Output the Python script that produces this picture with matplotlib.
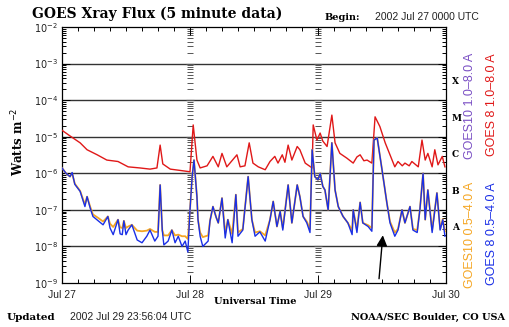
import numpy as np
import matplotlib
matplotlib.use("Agg")
import matplotlib.pyplot as plt
import matplotlib.ticker as mticker

# hours since 2002 Jul 27 00:00 UT, flux in W m^-2
goes8_long_t = [0.0, 1.5, 3.4, 4.7, 6.6, 8.4, 10.5, 12.4, 14.6, 16.5, 17.8, 18.4, 18.9, 20.3,
                22.1, 24.0, 24.6, 25.3, 25.9, 27.2, 28.3, 29.3, 30.0, 30.9, 32.8, 33.4, 34.3,
                35.1, 35.8, 36.8, 38.1, 39.0, 39.9, 40.5, 41.3, 41.8, 42.4, 43.1, 44.1, 44.6,
                45.6, 46.9, 47.1, 47.8, 48.4, 48.9, 49.7, 50.6, 51.2, 52.1, 53.4, 54.6, 55.3,
                55.9, 56.6, 57.2, 58.1, 58.7, 59.6, 60.6, 61.5, 62.4, 63.0, 63.8, 64.3, 65.1,
                65.6, 66.8, 67.5, 68.1, 68.6, 69.4, 69.9, 70.5, 71.3, 71.8]
goes8_long = [1.5e-5, 1.05e-5, 6.8e-6, 4.4e-6, 3.2e-6, 2.3e-6, 2.1e-6, 1.5e-6, 1.4e-6, 1.3e-6,
              1.4e-6, 5.9e-6, 1.8e-6, 1.3e-6, 1.2e-6, 1.1e-6, 2.1e-5, 2.3e-6, 1.4e-6, 1.6e-6,
              2.9e-6, 1.5e-6, 3.5e-6, 1.5e-6, 3.2e-6, 1.5e-6, 1.6e-6, 6.8e-6, 1.9e-6, 1.5e-6,
              1.25e-6, 2.1e-6, 2.9e-6, 1.9e-6, 3.2e-6, 2.0e-6, 5.9e-6, 2.3e-6, 5.4e-6, 4.4e-6,
              1.9e-6, 1.4e-6, 2.1e-5, 8.1e-6, 1.26e-5, 7.6e-6, 5.4e-6, 3.9e-5, 6.8e-6, 3.5e-6,
              2.6e-6, 1.9e-6, 2.8e-6, 3.2e-6, 2.2e-6, 2.3e-6, 1.9e-6, 3.5e-5, 1.9e-5, 6.8e-6,
              3.2e-6, 1.5e-6, 2.1e-6, 1.6e-6, 1.9e-6, 1.6e-6, 2.1e-6, 1.5e-6, 8.1e-6, 2.3e-6,
              3.5e-6, 1.5e-6, 4.4e-6, 1.7e-6, 2.9e-6, 1.5e-6]

short_t = [0.0, 0.75, 1.5, 1.9, 2.4, 3.4, 4.3, 4.7, 5.3, 5.8, 6.8, 7.7, 8.6, 9.0, 9.6,
           10.5, 10.9, 11.3, 11.6, 12.0, 12.4, 13.1, 14.1, 15.0, 15.9, 16.5, 17.4, 18.0,
           18.4, 18.8, 19.1, 19.9, 20.6, 21.2, 21.8, 22.5, 23.1, 23.6, 24.0, 24.4, 24.75,
           25.3, 25.5, 25.9, 26.4, 27.4, 27.75, 28.3, 28.9, 29.3, 30.0, 30.6, 31.1, 31.9,
           32.6, 33.0, 33.9, 34.9, 35.6, 36.2, 37.1, 38.1, 39.0, 39.6, 40.3, 40.9, 41.4,
           42.4, 43.1, 44.1, 44.6, 45.2, 45.9, 46.5, 46.9, 47.4, 48.0, 48.4, 48.9, 49.3,
           49.9, 50.6, 51.2, 51.8, 52.7, 53.6, 54.4, 54.6, 55.3, 55.9, 56.4, 57.4, 58.1,
           58.5, 59.1, 60.0, 60.9, 61.5, 62.4, 63.0, 63.75, 64.3, 65.25, 65.8, 66.6, 67.1,
           67.7, 68.1, 68.6, 69.4, 70.3, 70.9, 71.4, 71.8]
goes8_short = [1.4e-6, 1.0e-6, 8.1e-7, 1.05e-6, 5.0e-7, 3.2e-7, 1.23e-7, 2.3e-7, 1.1e-7, 6.6e-8,
               5.0e-8, 3.9e-8, 6.6e-8, 3.2e-8, 2.1e-8, 5.4e-8, 2.2e-8, 2.1e-8, 5.0e-8, 2.1e-8,
               2.8e-8, 3.9e-8, 1.5e-8, 1.26e-8, 1.9e-8, 2.8e-8, 1.4e-8, 1.9e-8, 4.8e-7, 2.8e-8,
               1.1e-8, 1.4e-8, 2.8e-8, 1.26e-8, 1.9e-8, 1.0e-8, 1.4e-8, 7.0e-9, 1.0e-7, 8.1e-7,
               2.3e-6, 2.3e-7, 5.4e-8, 1.9e-8, 1.0e-8, 1.4e-8, 5.0e-8, 1.23e-7, 6.3e-8, 4.4e-8,
               2.1e-7, 1.7e-8, 5.4e-8, 1.26e-8, 2.6e-7, 1.9e-8, 2.8e-8, 8.1e-7, 5.4e-8, 1.9e-8,
               2.5e-8, 1.4e-8, 5.4e-8, 1.7e-7, 3.5e-8, 9.1e-8, 2.8e-8, 4.8e-7, 4.4e-8, 4.8e-7,
               2.3e-7, 6.6e-8, 4.4e-8, 2.4e-8, 4.4e-6, 8.1e-7, 6.6e-7, 1.0e-6, 4.4e-7, 3.5e-7,
               1.0e-7, 6.8e-6, 3.5e-7, 1.23e-7, 6.6e-8, 4.4e-8, 2.1e-8, 1.0e-7, 2.4e-8, 1.6e-7,
               4.4e-8, 3.5e-8, 2.6e-8, 8.1e-6, 9.3e-6, 1.26e-6, 1.6e-7, 4.4e-8, 1.9e-8, 2.8e-8,
               1.0e-7, 4.4e-8, 1.23e-7, 2.8e-8, 2.4e-8, 1.0e-7, 1.0e-6, 5.4e-8, 3.5e-7, 2.4e-8,
               2.9e-7, 2.8e-8, 5.4e-8, 1.9e-8]
goes10_short = [1.4e-6, 1.0e-6, 8.1e-7, 1.0e-6, 5.2e-7, 3.3e-7, 1.4e-7, 2.3e-7, 1.2e-7, 7.5e-8,
                6.0e-8, 4.8e-8, 6.6e-8, 4.2e-8, 3.4e-8, 5.4e-8, 3.3e-8, 3.2e-8, 5.0e-8, 3.2e-8,
                3.5e-8, 3.9e-8, 2.7e-8, 2.6e-8, 2.7e-8, 3.0e-8, 2.5e-8, 2.5e-8, 4.8e-7, 2.8e-8,
                2.0e-8, 2.0e-8, 2.8e-8, 2.0e-8, 2.1e-8, 1.9e-8, 1.9e-8, 1.6e-8, 1.0e-7, 8.1e-7,
                2.3e-6, 2.3e-7, 5.4e-8, 2.4e-8, 1.8e-8, 2.0e-8, 5.0e-8, 1.23e-7, 6.3e-8, 4.4e-8,
                2.1e-7, 2.3e-8, 5.4e-8, 2.2e-8, 2.6e-7, 2.4e-8, 3.0e-8, 8.1e-7, 5.4e-8, 2.4e-8,
                2.6e-8, 2.0e-8, 5.4e-8, 1.7e-7, 3.5e-8, 9.1e-8, 3.2e-8, 4.8e-7, 4.4e-8, 4.8e-7,
                2.3e-7, 6.6e-8, 4.8e-8, 3.0e-8, 4.4e-6, 8.1e-7, 6.6e-7, 1.0e-6, 4.4e-7, 3.5e-7,
                1.0e-7, 6.8e-6, 3.5e-7, 1.23e-7, 6.6e-8, 4.4e-8, 2.8e-8, 1.0e-7, 2.9e-8, 1.6e-7,
                4.4e-8, 3.8e-8, 3.2e-8, 8.1e-6, 9.3e-6, 1.26e-6, 1.6e-7, 4.8e-8, 2.4e-8, 3.0e-8,
                1.0e-7, 4.4e-8, 1.23e-7, 3.0e-8, 2.8e-8, 1.0e-7, 1.0e-6, 5.4e-8, 3.5e-7, 2.8e-8,
                2.9e-7, 3.0e-8, 5.6e-8, 2.6e-8]

day_ticks = [0, 24, 48, 72]
day_labels = ["Jul 27", "Jul 28", "Jul 29", "Jul 30"]
decades = [1e-9, 1e-8, 1e-7, 1e-6, 1e-5, 1e-4, 1e-3, 1e-2]
flare_classes = ["A", "B", "C", "M", "X"]
flare_pos = [3.2e-8, 3.2e-7, 3.2e-6, 3.2e-5, 3.2e-4]

red = "#e01818"
blue = "#1a2fe6"
orange = "#f5a623"
purple = "#7a4fc4"

fig = plt.figure(figsize=(5.09, 3.27), dpi=100)
ax = fig.add_axes([62 / 509, 1 - 283 / 327, 384 / 509, 256 / 327])
ax.set_yscale("log")
ax.set_xlim(0, 72)
ax.set_ylim(1e-9, 1e-2)

# grid lines at decades
for d in decades[1:-1]:
    ax.axhline(d, color="#333333", lw=1.0, zorder=1)

# tick columns at day boundaries
minor_vals = [k * d for d in decades[:-1] for k in range(2, 10)]
for t in day_ticks[1:3]:
    ax.plot([t] * len(minor_vals), minor_vals, ls="none", marker="_", ms=4,
            mew=0.7, color="#555555", zorder=1)
    ax.plot([t] * len(decades), decades, ls="none", marker="_", ms=6,
            mew=0.8, color="#555555", zorder=1)

ax.plot(goes8_long_t, goes8_long, color=red, lw=1.0, zorder=3)
ax.plot(short_t, goes10_short, color=orange, lw=1.3, zorder=3)
ax.plot(short_t, goes8_short, color=blue, lw=1.0, zorder=4)

ax.set_xticks(day_ticks)
ax.set_xticklabels(day_labels, fontsize=7.5, family="Liberation Sans", color="#222222")
ax.xaxis.set_minor_locator(mticker.MultipleLocator(3))
ax.set_yticks(decades)
ax.set_yticklabels([f"$10^{{{int(np.log10(d))}}}$" for d in decades], fontsize=7,
                   color="#222222")
ax.yaxis.set_minor_locator(mticker.LogLocator(base=10, subs=np.arange(2, 10), numticks=20))
ax.yaxis.set_minor_formatter(mticker.NullFormatter())
ax.tick_params(which="both", direction="in", top=True, right=True, width=0.7)
ax.tick_params(which="major", length=6)
ax.tick_params(axis="x", which="major", pad=5)
ax.tick_params(axis="y", which="major", pad=3)
ax.tick_params(which="minor", length=3)
for s in ax.spines.values():
    s.set_linewidth(0.9)

for lab, v in zip(flare_classes, flare_pos):
    ax.text(1.015, v, lab, transform=ax.get_yaxis_transform(), fontsize=6.5,
            family="DejaVu Serif", weight="bold", va="center", ha="left")

ax.annotate("", xy=(60.2, 2.4e-8), xytext=(59.4, 1.1e-9),
            arrowprops=dict(arrowstyle="-|>", mutation_scale=16, color="black", lw=1.0))

fig.text(32 / 509, 1 - 14 / 327, "GOES Xray Flux (5 minute data)", fontsize=10,
         family="DejaVu Serif", weight="bold", va="center")
fig.text(325 / 509, 1 - 17 / 327, "Begin:", fontsize=7, family="DejaVu Serif",
         weight="bold", va="center")
fig.text(375 / 509, 1 - 17 / 327, "2002 Jul 27 0000 UTC", fontsize=7.5,
         family="Liberation Sans", va="center", color="#222222")
fig.text(18 / 509, 1 - 142 / 327, "Watts m$^{-2}$", fontsize=8.5, family="DejaVu Serif",
         weight="bold", rotation=90, va="center", ha="center")
fig.text(255 / 509, 1 - 302 / 327, "Universal Time", fontsize=7, family="DejaVu Serif",
         weight="bold", va="center", ha="center")
fig.text(7 / 509, 1 - 317 / 327, "Updated", fontsize=7.5, family="DejaVu Serif",
         weight="bold", va="center")
fig.text(70 / 509, 1 - 317 / 327, "2002 Jul 29 23:56:04 UTC", fontsize=7.5,
         family="Liberation Sans", va="center", color="#222222")
fig.text(505 / 509, 1 - 317 / 327, "NOAA/SEC Boulder, CO USA", fontsize=7,
         family="DejaVu Serif", weight="bold", va="center", ha="right")

legend_items = [("GOES10 1.0\u20138.0 A", purple, 470, 53),
                ("GOES 8 1.0\u20138.0 A", red, 492, 53),
                ("GOES10 0.5\u20134.0 A", orange, 470, 182),
                ("GOES 8 0.5\u20134.0 A", blue, 492, 182)]
for txt, c, x, y in legend_items:
    fig.text(x / 509, 1 - y / 327, txt, fontsize=9, family="Liberation Sans", color=c,
             rotation=90, ha="center", va="top")

fig.savefig("out.png", dpi=100)
